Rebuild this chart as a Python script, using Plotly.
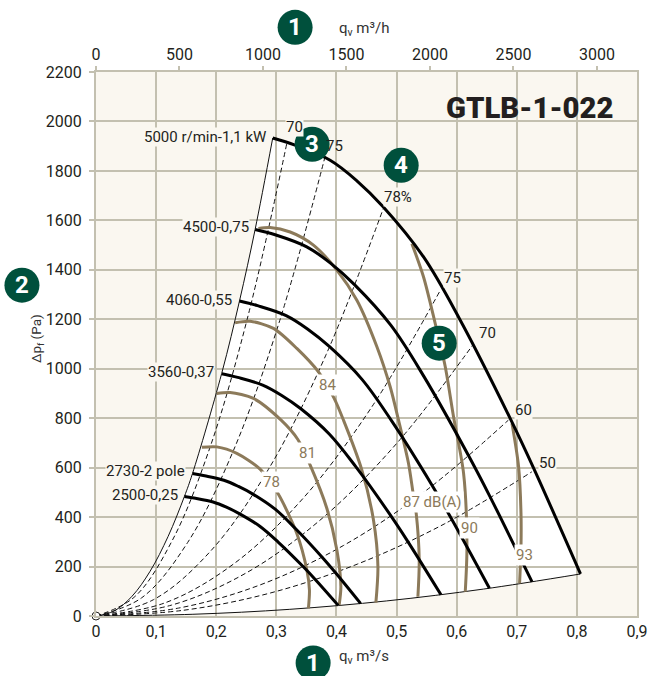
import plotly.graph_objects as go

W, H = 648, 676
L, R, T, B = 96, 636.7, 71.7, 616

# fan curves (q m3/s, dp Pa)
q_5000 = [0.294, 0.331, 0.3895, 0.434, 0.478, 0.5449, 0.606, 0.689, 0.728, 0.806]
p_5000 = [1933, 1904, 1843, 1760, 1654, 1452, 1196, 799, 598, 170]
q_4500 = [0.2647, 0.298, 0.3506, 0.3906, 0.430, 0.4904, 0.5454, 0.6201, 0.6552, 0.7254]
p_4500 = [1563, 1542, 1493, 1426, 1340, 1176, 969, 647, 484, 138]
q_4060 = [0.2387, 0.2688, 0.3163, 0.3524, 0.3881, 0.4425, 0.4921, 0.5595, 0.5911, 0.6545]
p_4060 = [1274, 1255, 1215, 1160, 1090, 957, 788, 527, 394, 112]
q_3560 = [0.2093, 0.2357, 0.2773, 0.309, 0.3403, 0.388, 0.4315, 0.4906, 0.5183, 0.5739]
p_3560 = [980, 965, 934, 892, 839, 736, 606, 405, 303, 86]
q_2730 = [0.1605, 0.1807, 0.2127, 0.237, 0.261, 0.2975, 0.3309, 0.3762, 0.3975, 0.4401]
p_2730 = [576, 567, 549, 524, 493, 433, 356, 238, 178, 51]
q_2500 = [0.147, 0.1655, 0.1948, 0.217, 0.239, 0.2725, 0.303, 0.3445, 0.364, 0.403]
p_2500 = [483, 476, 461, 440, 413, 363, 299, 200, 150, 43]

# limits of the working field
q_left = [0, 0.03, 0.06, 0.09, 0.12, 0.147, 0.1605, 0.209, 0.2387, 0.2647, 0.294]
p_left = [0, 20, 80, 181, 322, 483, 576, 980, 1274, 1563, 1933]
q_bottom = [0, 0.1612, 0.3224, 0.4836, 0.6448, 0.806]
p_bottom = [0, 7, 27, 61, 109, 170]

# efficiency lines
q_e70u = [0, 0.0635, 0.127, 0.1905, 0.254, 0.3175]
p_e70u = [0, 76, 306, 688, 1224, 1912]
q_e75u = [0, 0.0762, 0.1524, 0.2286, 0.3048, 0.381]
p_e75u = [0, 74, 297, 669, 1188, 1857]
q_e78 = [0, 0.0956, 0.1912, 0.2868, 0.3824, 0.478]
p_e78 = [0, 66, 264, 593, 1055, 1648]
q_e75l = [0, 0.1146, 0.2292, 0.3438, 0.4584, 0.573]
p_e75l = [0, 53, 211, 474, 844, 1318]
q_e70l = [0, 0.1256, 0.2512, 0.3768, 0.5024, 0.628]
p_e70l = [0, 44, 176, 396, 704, 1100]
q_e60 = [0, 0.1372, 0.2744, 0.4116, 0.5488, 0.686]
p_e60 = [0, 32, 127, 285, 507, 792]
q_e50 = [0, 0.145, 0.29, 0.435, 0.58, 0.725]
p_e50 = [0, 23, 93, 210, 373, 583]

# sound level curves
q_s78 = [0.176, 0.2009, 0.2342, 0.273, 0.3025, 0.3341, 0.3508, 0.3551, 0.3534]
p_s78 = [682, 684, 658, 594, 496, 334, 186, 105, 31]
q_s81 = [0.2009, 0.2231, 0.2619, 0.308, 0.3358, 0.3563, 0.3841, 0.4007, 0.4074, 0.4045]
p_s81 = [900, 904, 880, 792, 714, 610, 435, 267, 118, 44]
q_s84 = [0.2314, 0.2564, 0.2952, 0.3341, 0.3701, 0.3962, 0.4117, 0.4423, 0.4616, 0.469, 0.4656]
p_s84 = [1186, 1192, 1163, 1082, 987, 880, 792, 590, 388, 199, 54]
q_s87 = [0.2702, 0.2897, 0.323, 0.3617, 0.4007, 0.434, 0.4673, 0.4894, 0.5033, 0.5199, 0.5272, 0.5327, 0.5377, 0.5355]
p_s87 = [1567, 1571, 1553, 1500, 1399, 1277, 1089, 927, 792, 617, 502, 415, 226, 78]
q_s90 = [0.5255, 0.5449, 0.5643, 0.581, 0.5948, 0.6115, 0.6171, 0.6143]
p_s90 = [1506, 1371, 1183, 1008, 806, 577, 280, 98]
q_s93 = [0.692, 0.703, 0.707, 0.707, 0.7047]
p_s93 = [779, 604, 415, 280, 132]

x_ticks = [0, 0.1, 0.2, 0.3, 0.4, 0.5, 0.6, 0.7, 0.8, 0.9]
y_ticks = [0, 200, 400, 600, 800, 1000, 1200, 1400, 1600, 1800, 2000, 2200]
top_ticks = [0, 500, 1000, 1500, 2000, 2500, 3000]

GRID = "#c3c0b0"
BG = "#faf7f0"
BROWN = "#8c7a5a"
GREEN = "#00503c"
INK = "#231f20"
FONT = "Roboto"


def px(x):
    return (x - L) / (R - L)


def py(y):
    return (B - y) / (B - T)


fig = go.Figure()

# white working field, below the grid, built from the limit curves
env = (list(zip(q_left, p_left))
       + list(zip(q_5000, p_5000))
       + list(zip(q_bottom, p_bottom))[::-1])
path = "M " + " L ".join(f"{a},{b}" for a, b in env) + " Z"
shapes = [dict(type="path", path=path, xref="x", yref="y", layer="below",
               fillcolor="white", line=dict(width=0))]

for q, p in [(q_e70u, p_e70u), (q_e75u, p_e75u), (q_e78, p_e78), (q_e75l, p_e75l),
             (q_e70l, p_e70l), (q_e60, p_e60), (q_e50, p_e50)]:
    fig.add_trace(go.Scatter(x=q, y=p, mode="lines", hoverinfo="skip",
                             line=dict(color="#111111", width=1, dash="5px,3px", shape="spline")))
for q, p in [(q_left, p_left), (q_bottom, p_bottom)]:
    fig.add_trace(go.Scatter(x=q, y=p, mode="lines", hoverinfo="skip",
                             line=dict(color="#111111", width=1, shape="spline")))
for q, p in [(q_s78, p_s78), (q_s81, p_s81), (q_s84, p_s84),
             (q_s87, p_s87), (q_s90, p_s90), (q_s93, p_s93)]:
    fig.add_trace(go.Scatter(x=q, y=p, mode="lines", hoverinfo="skip",
                             line=dict(color=BROWN, width=3, shape="spline", smoothing=0.8)))
for q, p in [(q_2500, p_2500), (q_2730, p_2730), (q_3560, p_3560),
             (q_4060, p_4060), (q_4500, p_4500), (q_5000, p_5000)]:
    fig.add_trace(go.Scatter(x=q, y=p, mode="lines", hoverinfo="skip",
                             line=dict(color="#000000", width=3, shape="spline", smoothing=1)))
fig.add_trace(go.Scatter(x=[0], y=[0], mode="markers", cliponaxis=False, hoverinfo="skip",
                         marker=dict(size=8, color="white", line=dict(color="#222222", width=1))))
# top axis carrier
fig.add_trace(go.Scatter(x=top_ticks, y=[0] * len(top_ticks), xaxis="x2", mode="markers",
                         hoverinfo="skip", marker=dict(opacity=0, size=1)))

ann = []


def label(text, x, y, color=INK, size=15, bg=None, xanchor="center", pad=0, weight=None, **kw):
    f = dict(family=FONT, size=size, color=color)
    if weight:
        f["weight"] = weight
    d = dict(text=text, x=px(x), y=py(y), xref="paper", yref="paper", showarrow=False,
             xanchor=xanchor, yanchor="middle", borderpad=pad, font=f)
    if bg:
        d["bgcolor"] = bg
    d.update(kw)
    ann.append(d)


label("5000 r/min-1,1 kW", 267, 137, bg=BG, xanchor="right")
label("4500-0,75", 250, 227, bg=BG, xanchor="right")
label("4060-0,55", 233, 300, bg=BG, xanchor="right")
label("3560-0,37", 215, 372, bg=BG, xanchor="right")
label("2730-2 pole", 186, 471, bg=BG, xanchor="right")
label("2500-0,25", 179, 495, bg=BG, xanchor="right")
label("70", 294, 127, bg=BG)
label("75", 334, 146)
label("78%", 398, 197, bg=BG)
label("75", 452, 278, bg=BG)
label("70", 487, 333, bg=BG)
label("60", 523, 410, bg=BG)
label("50", 547, 463, bg=BG)
label("84", 327, 385, color=BROWN, bg="white", pad=1)
label("81", 307, 453, color=BROWN, bg="white", pad=1)
label("78", 271, 482, color=BROWN, bg="white", pad=1)
label("87 dB(A)", 432, 502, color=BROWN, bg="white", pad=1)
label("90", 469, 528, color=BROWN, bg="white", pad=1)
label("93", 524, 555, color=BROWN, bg="white", pad=1)
label("GTLB-1-022", 530, 108, size=29.3, weight=900)
label("q<sub>v</sub> m³/h", 364, 29, color="#333333")
label("q<sub>v</sub> m³/s", 364, 657, color="#333333")
label("Δp<sub>f</sub> (Pa)", 37, 338, color="#333333", size=13.5, textangle=-90)

for n, cx, cy in [("1", 295, 27), ("2", 22, 285), ("3", 312, 144), ("4", 401, 165),
                  ("5", 439, 343), ("1", 313, 663)]:
    shapes.append(dict(type="circle", xref="paper", yref="paper", layer="above",
                       x0=px(cx - 17.5), x1=px(cx + 17.5), y0=py(cy + 17.5), y1=py(cy - 17.5),
                       fillcolor=GREEN, line=dict(width=0)))
    label(f"<b>{n}</b>", cx, cy, color="white", size=24)

fig.update_layout(
    width=W, height=H, autosize=False, showlegend=False,
    paper_bgcolor="white", plot_bgcolor=BG, separators=", ",
    margin=dict(l=L, r=W - R, t=T, b=H - B, pad=0),
    font=dict(family=FONT, size=16, color=INK),
    shapes=shapes, annotations=ann,
    xaxis=dict(range=[0, 0.9], tickvals=x_ticks, ticks="", showgrid=True, gridcolor=GRID,
               gridwidth=2, zeroline=False, showline=True, linecolor=GRID, linewidth=2,
               mirror=True, ticklabelstandoff=0, automargin=False),
    xaxis2=dict(range=[0, 3240], tickvals=top_ticks, overlaying="x", side="top", anchor="y",
                ticks="outside", ticklen=5, tickcolor=GRID, tickwidth=2, showgrid=False,
                zeroline=False, showline=False, automargin=False),
    yaxis=dict(range=[0, 2200], tickvals=y_ticks, ticks="outside", ticklen=5, tickcolor=GRID,
               tickwidth=2, showgrid=True, gridcolor=GRID, gridwidth=2, zeroline=False,
               showline=True, linecolor=GRID, linewidth=2, mirror=True, ticklabelstandoff=4,
               automargin=False),
)

fig.write_html("out.html", config=dict(displayModeBar=False),
               post_script="document.body.style.margin='0';")
